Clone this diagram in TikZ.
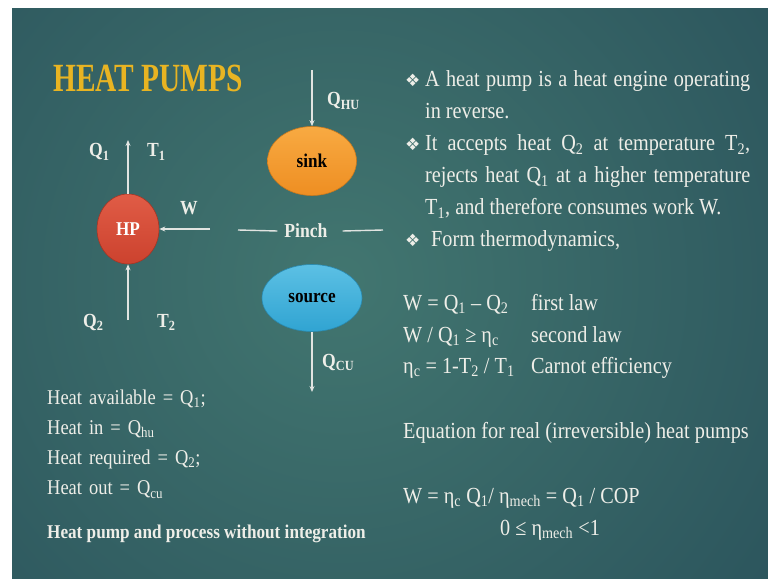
\documentclass[tikz,border=0pt]{standalone}
\usepackage{fontspec}
\setmainfont{Liberation Serif}[FakeStretch=0.88]
\newfontfamily\titlefont{Liberation Serif}[FakeStretch=0.735]
\newfontfamily\symfont{DejaVu Sans}
\usetikzlibrary{shapes.geometric, arrows.meta, positioning}
\definecolor{bginner}{RGB}{66,118,112}
\definecolor{bgouter}{RGB}{24,56,76}
\definecolor{mygold}{RGB}{232,180,34}
\definecolor{mytext}{RGB}{238,238,232}
\definecolor{myline}{RGB}{225,228,225}
\definecolor{hpred}{RGB}{204,66,46}
\definecolor{hpredtop}{RGB}{224,92,70}
\definecolor{sinkor}{RGB}{238,142,34}
\definecolor{sinkortop}{RGB}{248,170,66}
\definecolor{srcblue}{RGB}{48,164,210}
\definecolor{srcbluetop}{RGB}{92,192,228}
\tikzset{
  ball/.style={ellipse, inner sep=0pt, line width=0.6bp,
    font=\fontsize{19.5bp}{20bp}\selectfont\bfseries},
  lbl/.style={anchor=base west, inner sep=0pt, text=mytext,
    font=\fontsize{20bp}{22bp}\selectfont\bfseries},
  body/.style={anchor=base west, inner sep=0pt, text=mytext,
    font=\fontsize{23bp}{31.8bp}\selectfont},
  para/.style={body, text width=325bp, align=justify},
  bullet/.style={anchor=base west, inner sep=0pt, text=mytext,
    font=\fontsize{17bp}{18bp}\symfont},
  flow/.style={-{Stealth[length=6bp, width=5bp]}, line width=1.1bp, color=myline},
  pinchline/.style={line width=1.4bp, color=myline}
}

\begin{document}
\begin{tikzpicture}[x=1bp, y=-1bp]
  \useasboundingbox (0,0) rectangle (768,579);
  \fill[white] (0,0) rectangle (768,579);
  \begin{scope}
    \clip (12,9) rectangle (768,579);
    \shade[inner color=bginner, outer color=bgouter] (340,280) circle (1000bp);
  \end{scope}

  \node[anchor=base west, inner sep=0pt, text=mygold,
    font=\fontsize{40bp}{44bp}\titlefont\bfseries] (title) at (53,92) {HEAT PUMPS};

  % heat pump and process streams
  \node[ball, minimum width=62bp, minimum height=70bp, top color=hpredtop,
    bottom color=hpred, draw=hpred!80!black, text=white] (hp) at (128,229) {HP};
  \node[ball, minimum width=89bp, minimum height=69bp, top color=sinkortop,
    bottom color=sinkor, draw=sinkor!85!black] (sink) at (312,161) {sink};
  \node[ball, minimum width=100bp, minimum height=67bp, top color=srcbluetop,
    bottom color=srcblue, draw=srcblue!85!black] (source) at (312,298) {source};

  \coordinate (hutop) at (312,70);
  \coordinate (q1end) at (128,140);
  \coordinate (q2start) at (128,320);
  \coordinate (wstart) at (210,229);
  \coordinate (cuend) at (312,392);
  \coordinate (pinchL) at (238,230);
  \coordinate (pinchR) at (383,230);

  \draw[flow] (hutop) -- (sink);
  \draw[flow] (hp) -- (q1end);
  \draw[flow] (q2start) -- (hp);
  \draw[flow, line width=1.8bp] (wstart) -- (hp);
  \draw[flow] (source) -- (cuend);

  \node[lbl, anchor=center, inner sep=7bp] (pinch) at (306,231) {Pinch};
  \draw[pinchline] (pinchL) -- (pinch.west);
  \draw[pinchline] ([xshift=8bp]pinch.east) -- (pinchR);

  \node[lbl] (qhu) at (327,106) {Q\textsubscript{HU}};
  \node[lbl] (qone) at (89,157) {Q\textsubscript{1}};
  \node[lbl] (tone) at (147,157) {T\textsubscript{1}};
  \node[lbl] (wlbl) at (180,215) {W};
  \node[lbl] (qtwo) at (83,327) {Q\textsubscript{2}};
  \node[lbl] (ttwo) at (157,327) {T\textsubscript{2}};
  \node[lbl] (qcu) at (322,367) {Q\textsubscript{CU}};

  % left notes
  \node[body, text width=320bp,
    font=\fontsize{21bp}{30.3bp}\selectfont] (notes) at (47,404)
    {Heat available = Q\textsubscript{1};\newline Heat in = Q\textsubscript{hu}\newline
     Heat required = Q\textsubscript{2};\newline Heat out = Q\textsubscript{cu}};
  \node[body, font=\fontsize{19.5bp}{22bp}\selectfont\bfseries] (caption) at (47,538)
    {Heat pump and process without integration};

  % right column
  \node[bullet] (bone) at (405,87) {❖};
  \node[para] (pone) at (425,87) {A heat pump is a heat engine operating\linebreak in reverse.};
  \node[bullet] (btwo) at (405,151) {❖};
  \node[para] (ptwo) at (425,151) {It accepts heat Q\textsubscript{2} at temperature T\textsubscript{2},\linebreak
    rejects heat Q\textsubscript{1} at a higher temperature\linebreak
    T\textsubscript{1}, and therefore consumes work W.};
  \node[bullet] (bthree) at (405,246) {❖};
  \node[body] (pthree) at (431,246) {Form thermodynamics,};

  \node[body] (eqone) at (403,310) {W = Q\textsubscript{1} – Q\textsubscript{2}};
  \node[body] (lawone) at (531,310) {first law};
  \node[body] (eqtwo) at (403,342) {W / Q\textsubscript{1} ≥ η\textsubscript{c}};
  \node[body] (lawtwo) at (531,342) {second law};
  \node[body] (eqthree) at (403,373) {η\textsubscript{c} = 1-T\textsubscript{2} / T\textsubscript{1}};
  \node[body] (lawthree) at (531,373) {Carnot efficiency};

  \node[body] (real) at (403,438) {Equation for real (irreversible) heat pumps};
  \node[body] (eqreal) at (403,503)
    {W = η\textsubscript{c} Q\textsubscript{1}/ η\textsubscript{mech} = Q\textsubscript{1} / COP};
  \node[body] (bound) at (500,535) {0 ≤ η\textsubscript{mech} <1};
\end{tikzpicture}
\end{document}
